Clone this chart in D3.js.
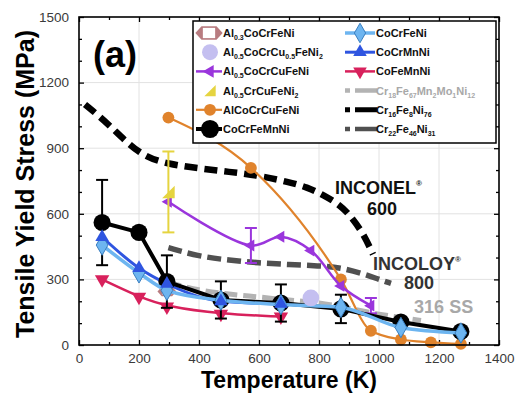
<!DOCTYPE html>
<html>
<head>
<meta charset="utf-8">
<script src="https://cdn.jsdelivr.net/npm/d3@7"></script>
<style>
  body { margin: 0; background: #fff; }
  text { font-family: "Liberation Sans", Arial, sans-serif; }
</style>
</head>
<body>
<script>
// ---- data (temperature K, tensile yield stress MPa) ----
var tCoCrFeMnNi = [77, 200, 293, 473, 673, 873, 1073, 1273];
var sCoCrFeMnNi = [560, 515, 290, 206, 192, 165, 105, 62];
var eCoCrFeMnNi = [195, 0, 120, 85, 85, 65, 0, 0];

var tCoCrFeNi = [77, 200, 293, 473, 673, 873, 1073, 1273];
var sCoCrFeNi = [457, 330, 250, 205, 185, 172, 80, 55];

var tCoCrMnNi = [77, 200, 293, 473, 673];
var sCoCrMnNi = [494, 352, 280, 200, 188];

var tCoFeMnNi = [77, 200, 293, 473, 673];
var sCoFeMnNi = [300, 220, 175, 142, 130];

var tAl05CoCrCuFeNi = [298, 573, 673, 773, 873, 973];
var sAl05CoCrCuFeNi = [655, 455, 495, 432, 270, 180];
var eAl05CoCrCuFeNi = [0, 80, 0, 0, 0, 35];

var tAl05CrCuFeNi2 = [298];
var sAl05CrCuFeNi2 = [700];
var eAl05CrCuFeNi2 = [185];

var tAlCoCrCuFeNi = [298, 573, 873, 973, 1073, 1173, 1273];
var sAlCoCrCuFeNi = [1040, 810, 300, 65, 25, 12, 5];

var tAl05CoCrCu05FeNi2 = [773];
var sAl05CoCrCu05FeNi2 = [215];

var tAl03CoCrFeNi = [293];
var sAl03CoCrFeNi = [245];

var tInconel = [20, 100, 200, 300, 400, 500, 600, 700, 760, 815, 870, 903, 947, 980];
var sInconel = [1100, 1010, 868, 826, 808, 792, 775, 745, 722, 686, 640, 594, 512, 415];

var tIncoloy = [298, 400, 500, 600, 700, 800, 870, 950, 1000, 1040];
var sIncoloy = [445, 405, 388, 375, 368, 362, 355, 325, 300, 282];

var tSS316 = [298, 400, 500, 600, 700, 800, 900, 1000, 1100, 1140];
var sSS316 = [285, 250, 232, 220, 205, 195, 168, 140, 120, 112];

var xTicks = [0, 200, 400, 600, 800, 1000, 1200, 1400];
var yTicks = [0, 300, 600, 900, 1200, 1500];

var legendCol1 = ["Al_{0.3}CoCrFeNi", "Al_{0.5}CoCrCu_{0.5}FeNi_{2}", "Al_{0.5}CoCrCuFeNi",
                  "Al_{0.5}CrCuFeNi_{2}", "AlCoCrCuFeNi", "CoCrFeMnNi"];
var legendCol2 = ["CoCrFeNi", "CoCrMnNi", "CoFeMnNi",
                  "Cr_{18}Fe_{67}Mn_{2}Mo_{1}Ni_{12}", "Cr_{16}Fe_{8}Ni_{76}", "Cr_{22}Fe_{46}Ni_{31}"];

// ---- layout ----
var W = 518, H = 401;
var margin = {top: 17, right: 19, bottom: 56, left: 79},
    width = W - margin.left - margin.right,
    height = H - margin.top - margin.bottom;

var x = d3.scaleLinear().domain([0, 1400]).range([0, width]);
var y = d3.scaleLinear().domain([0, 1500]).range([height, 0]);

var svg = d3.select("body").append("svg")
    .attr("width", W)
    .attr("height", H);

var g = svg.append("g")
    .attr("transform", "translate(" + margin.left + "," + margin.top + ")");

// grid
g.append("g").selectAll("line").data(xTicks.slice(1, -1)).enter().append("line")
    .attr("x1", function(d) { return x(d); }).attr("x2", function(d) { return x(d); })
    .attr("y1", 0).attr("y2", height)
    .attr("stroke", "#e2e2e2").attr("stroke-width", 1);
g.append("g").selectAll("line").data(yTicks.slice(1, -1)).enter().append("line")
    .attr("y1", function(d) { return y(d); }).attr("y2", function(d) { return y(d); })
    .attr("x1", 0).attr("x2", width)
    .attr("stroke", "#e2e2e2").attr("stroke-width", 1);

// axes (inward ticks, mirrored on top/right)
function styleAxis(sel) {
  sel.select(".domain").remove();
  sel.selectAll(".tick line").attr("stroke", "#000").attr("stroke-width", 1.3);
  sel.selectAll(".tick text").attr("fill", "#3a3a3a").style("font-size", "13.5px")
     .style("font-family", "'Liberation Sans', Arial, sans-serif");
}
function noLabels(sel) { sel.selectAll("text").remove(); }
var minorX = d3.range(100, 1400, 200), minorY = d3.range(0, 1500, 100).filter(function(d) { return d % 300; });
var fmt = d3.format("d");

g.append("g").attr("transform", "translate(0," + height + ")")
    .call(d3.axisBottom(x).tickValues(xTicks).tickSize(-5).tickPadding(8).tickFormat(fmt)).call(styleAxis);
g.append("g").attr("transform", "translate(0," + height + ")")
    .call(d3.axisBottom(x).tickValues(minorX).tickSize(-3)).call(styleAxis).call(noLabels);
g.append("g").call(d3.axisTop(x).tickValues(xTicks).tickSize(-5)).call(styleAxis).call(noLabels);
g.append("g").call(d3.axisTop(x).tickValues(minorX).tickSize(-3)).call(styleAxis).call(noLabels);

g.append("g").call(d3.axisLeft(y).tickValues(yTicks).tickSize(-5).tickPadding(10).tickFormat(fmt)).call(styleAxis);
g.append("g").call(d3.axisLeft(y).tickValues(minorY).tickSize(-3)).call(styleAxis).call(noLabels);
g.append("g").attr("transform", "translate(" + width + ",0)")
    .call(d3.axisRight(y).tickValues(yTicks).tickSize(-5)).call(styleAxis).call(noLabels);
g.append("g").attr("transform", "translate(" + width + ",0)")
    .call(d3.axisRight(y).tickValues(minorY).tickSize(-3)).call(styleAxis).call(noLabels);

// helpers
function pts(t, s) { return t.map(function(d, i) { return [d, s[i]]; }); }
function line(curve) {
  return d3.line().x(function(d) { return x(d[0]); }).y(function(d) { return y(d[1]); }).curve(curve);
}
function drawLine(t, s, color, w, curve, dash) {
  g.append("path").datum(pts(t, s))
    .attr("d", line(curve || d3.curveLinear))
    .attr("fill", "none").attr("stroke", color).attr("stroke-width", w)
    .attr("stroke-dasharray", dash || null);
}
function drawErr(t, s, e, color, w) {
  t.forEach(function(d, i) {
    if (!e[i]) return;
    var eg = g.append("g").attr("stroke", color).attr("stroke-width", w);
    eg.append("line").attr("x1", x(d)).attr("x2", x(d)).attr("y1", y(s[i] - e[i])).attr("y2", y(s[i] + e[i]));
    eg.append("line").attr("x1", x(d) - 6).attr("x2", x(d) + 6).attr("y1", y(s[i] - e[i])).attr("y2", y(s[i] - e[i]));
    eg.append("line").attr("x1", x(d) - 6).attr("x2", x(d) + 6).attr("y1", y(s[i] + e[i])).attr("y2", y(s[i] + e[i]));
  });
}
function drawSym(parent, t, s, type, size, fill, stroke, rot) {
  parent.selectAll(null).data(pts(t, s)).enter().append("path")
    .attr("d", d3.symbol().type(type).size(size))
    .attr("transform", function(d) { return "translate(" + x(d[0]) + "," + y(d[1]) + ")" + (rot ? " rotate(" + rot + ")" : ""); })
    .attr("fill", fill).attr("stroke", stroke || "none").attr("stroke-width", 1);
}
// custom shapes
var hexShape = { draw: function(ctx, size) {
  var w = Math.sqrt(size) * 0.9, h = w * 0.5;
  ctx.moveTo(-w, 0); ctx.lineTo(-w * 0.55, -h); ctx.lineTo(w * 0.55, -h);
  ctx.lineTo(w, 0); ctx.lineTo(w * 0.55, h); ctx.lineTo(-w * 0.55, h); ctx.closePath();
}};
var hexInner = { draw: function(ctx, size) {
  var w = Math.sqrt(size) * 0.9, h = w * 0.5;
  ctx.rect(-w * 0.45, -h * 0.75, w * 0.9, h * 1.5);
}};
var rightTri = { draw: function(ctx, size) {
  var r = Math.sqrt(size) * 0.6;
  ctx.moveTo(-r, r); ctx.lineTo(r, r); ctx.lineTo(r, -r); ctx.closePath();
}};

var cBlack = "#000", cLBlue = "#6db5f0", cBlue = "#2f55e0", cRed = "#d8215c",
    cPurple = "#9a35dc", cYellow = "#e5d440", cOrange = "#e0832c", cLav = "#c4bff0",
    cHex = "#b87c80", cGray1 = "#b3b3b3", cGray2 = "#505050";

// reference alloys (dashed)
drawLine(tSS316, sSS316, cGray1, 5, d3.curveBasis, "13,6");
drawLine(tIncoloy, sIncoloy, cGray2, 5.5, d3.curveBasis, "14,6");
drawLine(tInconel, sInconel, "#000", 6.5, d3.curveBasis, "13,7");

// HEAs
drawLine(tAlCoCrCuFeNi, sAlCoCrCuFeNi, cOrange, 2.2, d3.curveMonotoneX);
drawSym(g, tAlCoCrCuFeNi, sAlCoCrCuFeNi, d3.symbolCircle, 110, cOrange);

drawLine(tAl05CoCrCuFeNi, sAl05CoCrCuFeNi, cPurple, 2.5, d3.curveCatmullRom);
drawErr(tAl05CoCrCuFeNi, sAl05CoCrCuFeNi, eAl05CoCrCuFeNi, cPurple, 2);
drawSym(g, tAl05CoCrCuFeNi, sAl05CoCrCuFeNi, d3.symbolTriangle, 60, cPurple, null, -90);

drawErr(tAl05CrCuFeNi2, sAl05CrCuFeNi2, eAl05CrCuFeNi2, cYellow, 2);
drawSym(g, tAl05CrCuFeNi2, sAl05CrCuFeNi2, rightTri, 110, cYellow);

drawLine(tCoFeMnNi, sCoFeMnNi, cRed, 2.5, d3.curveBasis);
drawSym(g, tCoFeMnNi, sCoFeMnNi, d3.symbolTriangle, 90, cRed, null, 180);

drawSym(g, tAl03CoCrFeNi, sAl03CoCrFeNi, hexShape, 110, cHex);
drawSym(g, tAl03CoCrFeNi, sAl03CoCrFeNi, hexInner, 110, "#fff");

drawLine(tCoCrMnNi, sCoCrMnNi, cBlue, 3, d3.curveMonotoneX);

drawLine(tCoCrFeMnNi, sCoCrFeMnNi, cBlack, 4, d3.curveLinear);
drawErr(tCoCrFeMnNi, sCoCrFeMnNi, eCoCrFeMnNi, cBlack, 2);
drawSym(g, tCoCrFeMnNi, sCoCrFeMnNi, d3.symbolCircle, 230, cBlack);

drawLine(tCoCrFeNi, sCoCrFeNi, cLBlue, 3.5, d3.curveMonotoneX);
drawSym(g, tCoCrFeNi, sCoCrFeNi, d3.symbolDiamond, 120, cLBlue, "#3a7fc0");
drawSym(g, tCoCrMnNi, sCoCrMnNi, d3.symbolTriangle, 80, cBlue);

drawSym(g, tAl05CoCrCu05FeNi2, sAl05CoCrCu05FeNi2, d3.symbolCircle, 220, cLav);

// frame
g.append("rect").attr("width", width).attr("height", height)
    .attr("fill", "none").attr("stroke", "#000").attr("stroke-width", 1.6);

// annotations
function superText(px, py, main, sup, color, anchor) {
  var t = g.append("text").attr("x", px).attr("y", py).attr("fill", color)
    .attr("font-weight", "bold").attr("font-size", 18).attr("text-anchor", anchor || "start");
  t.append("tspan").text(main);
  if (sup) t.append("tspan").attr("font-size", 8).attr("dy", -8).text(sup);
  return t;
}
superText(x(853), y(692), "INCONEL", "\u00ae", "#111");
superText(x(1010), y(594), "600", null, "#111", "middle");
superText(x(980), y(342), "INCOLOY", "\u00ae", "#333");
superText(x(1133), y(254), "800", null, "#333", "middle");
superText(x(1117), y(145), "316 SS", null, "#a8a8a8");

g.append("text").attr("x", x(47)).attr("y", y(1273))
    .attr("font-weight", "bold").attr("font-size", 36).text("(a)");

// axis titles
svg.append("text").attr("x", margin.left + width / 2).attr("y", 388)
    .attr("text-anchor", "middle").attr("font-weight", "bold").attr("font-size", 23)
    .text("Temperature (K)");
svg.append("text").attr("transform", "translate(34," + (margin.top + height / 2 + 3) + ") rotate(-90)")
    .attr("text-anchor", "middle").attr("font-weight", "bold").attr("font-size", 25)
    .text("Tensile Yield Stress (MPa)");

// legend
var lg = svg.append("g");
lg.append("rect").attr("x", 193).attr("y", 21).attr("width", 303).attr("height", 122)
    .attr("fill", "#fff").attr("stroke", "#000").attr("stroke-width", 1.5);

function richText(sel, str) {
  var parts = str.split(/(_\{[^}]*\})/).filter(function(p) { return p.length; });
  var shifted = false;
  parts.forEach(function(p) {
    var m = p.match(/^_\{([^}]*)\}$/);
    if (m) {
      sel.append("tspan").attr("font-size", 7).attr("dy", shifted ? 0 : 3).text(m[1]);
      shifted = true;
    } else {
      sel.append("tspan").attr("dy", shifted ? -3 : 0).text(p);
      shifted = false;
    }
  });
}
var rowY = function(i) { return 33 + i * 19.2; };
function legendText(px, i, str, color) {
  var t = lg.append("text").attr("x", px).attr("y", rowY(i) + 4)
    .attr("font-weight", "bold").attr("font-size", 11).attr("fill", color || "#111");
  richText(t, str);
}
function legSym(cx, cy, type, size, fill, stroke, rot) {
  lg.append("path").attr("d", d3.symbol().type(type).size(size)())
    .attr("transform", "translate(" + cx + "," + cy + ")" + (rot ? " rotate(" + rot + ")" : ""))
    .attr("fill", fill).attr("stroke", stroke || "none");
}
function legLine(x1, x2, cy, color, w, dash) {
  lg.append("line").attr("x1", x1).attr("x2", x2).attr("y1", cy).attr("y2", cy)
    .attr("stroke", color).attr("stroke-width", w).attr("stroke-dasharray", dash || null);
}

// column 1
legSym(209, rowY(0), hexShape, 230, cHex);
legSym(209, rowY(0), hexInner, 230, "#fff");
legSym(210, rowY(1), d3.symbolCircle, 200, cLav);
legLine(196, 222, rowY(2), cPurple, 2.5); legSym(210, rowY(2), d3.symbolTriangle, 70, cPurple, null, -90);
legSym(210, rowY(3), rightTri, 90, cYellow);
legLine(196, 222, rowY(4), cOrange, 2.2); legSym(210, rowY(4), d3.symbolCircle, 110, cOrange);
legLine(196, 222, rowY(5), cBlack, 4); legSym(210, rowY(5), d3.symbolCircle, 260, cBlack);
legendCol1.forEach(function(s, i) { legendText(223, i, s); });

// column 2
legLine(345, 375, rowY(0), cLBlue, 3.5); legSym(360, rowY(0), d3.symbolDiamond, 110, cLBlue, "#3a7fc0");
legLine(345, 375, rowY(1), cBlue, 3); legSym(360, rowY(1), d3.symbolTriangle, 80, cBlue);
legLine(345, 375, rowY(2), cRed, 2.5); legSym(360, rowY(2), d3.symbolTriangle, 80, cRed, null, 180);
legLine(345, 377, rowY(3), cGray1, 4.5, "5,5,22");
legLine(345, 377, rowY(4), "#000", 5, "5,5,22");
legLine(345, 377, rowY(5), cGray2, 4.5, "5,5,22");
legendCol2.forEach(function(s, i) { legendText(376, i, s, i === 3 ? "#a8a8a8" : "#111"); });
</script>
</body>
</html>
